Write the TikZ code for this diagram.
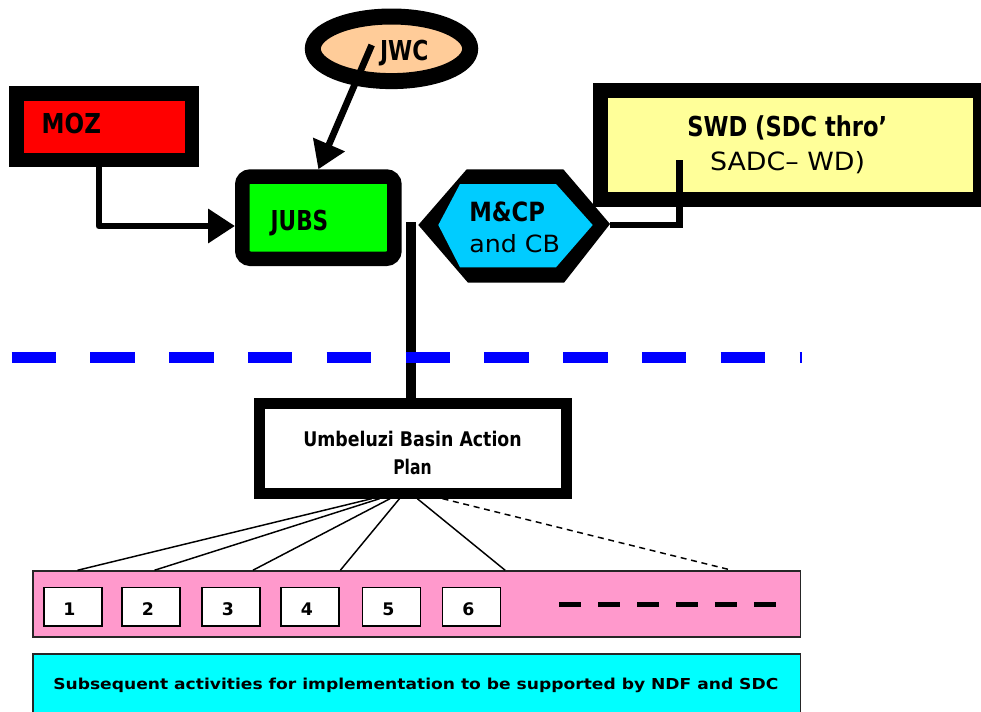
\documentclass[tikz,border=0pt]{standalone}
\usepackage{fontspec}
\setmainfont{DejaVu Sans}
\usepackage{graphicx}
\usetikzlibrary{arrows.meta,shapes.geometric}
\newsavebox\fitbox
\newsavebox\capbox
\newcommand\fitt[3]{%
  \sbox\fitbox{#3}\sbox\capbox{H}%
  \edef\fitw{\the\wd\fitbox}\edef\fith{\the\ht\capbox}%
  \pgfmathsetmacro\fitsx{#1*0.75/\fitw}%
  \pgfmathsetmacro\fitsy{#2*0.75/\fith}%
  \scalebox{\fitsx}[\fitsy]{\usebox\fitbox}}
\definecolor{mozred}{HTML}{FF0000}
\definecolor{jubsgreen}{HTML}{00FF00}
\definecolor{jwcpeach}{HTML}{FFCC99}
\definecolor{mcpblue}{HTML}{00CCFF}
\definecolor{swdyellow}{HTML}{FFFF99}
\definecolor{actpink}{HTML}{FF99CC}
\definecolor{subcyan}{HTML}{00FFFF}
\definecolor{divblue}{HTML}{0000FF}
\tikzset{
  lbl/.style={inner sep=0pt, outer sep=0pt},
  heavybox/.style={draw=black, rectangle, inner sep=0pt},
  thinbox/.style={draw=black!85, rectangle, inner sep=0pt, line width=1.125pt},
  numbox/.style={draw=black, fill=white, rectangle, inner sep=0pt, line width=1.125pt,
    minimum width=43.5pt, minimum height=29pt},
  numtxt/.style={lbl, anchor=base, font=\fontsize{13pt}{14pt}\selectfont\bfseries},
  bigarrow/.style={line width=5pt, -{Triangle[length=20.25pt,width=24.75pt]}},
  fanline/.style={line width=1.1pt},
}
\begin{document}
\begin{tikzpicture}[x=0.75pt,y=-0.75pt]
\useasboundingbox (0,0) rectangle (981,711);

% JWC ellipse
\node[ellipse, draw=black, fill=jwcpeach, line width=12pt, inner sep=0pt,
  minimum width=118.05pt, minimum height=48.45pt] (jwc) at (391.5,48.8) {};
% MOZ
\node[heavybox, line width=10.875pt, fill=mozred, minimum width=131.85pt,
  minimum height=50.1pt] (moz) at (104.15,126.65) {};
% JUBS
\node[heavybox, line width=10.875pt, fill=jubsgreen, rounded corners=6pt,
  minimum width=114.15pt, minimum height=61.65pt] (jubs) at (318.35,217.65) {};
% SWD
\node[heavybox, line width=11.25pt, fill=swdyellow, minimum width=285.3pt,
  minimum height=81.75pt] (swd) at (790.3,145) {};
% M&CP hexagon
\fill[black] (418.3,225) -- (466.7,169.3) -- (563.3,169.3) -- (610,224)
  -- (564,282.7) -- (468,282.7) -- cycle;
\fill[mcpblue] (438.3,225) -- (460,184) -- (556,184) -- (592.7,225)
  -- (556,267.3) -- (460,267.3) -- cycle;
\coordinate (mcpE) at (610,225);

% connectors top
\coordinate (jwcS) at (371.7,45);
\draw[bigarrow] (jwcS) -- (jubs.north);
\draw[bigarrow, line join=round] ([xshift=-3.86pt]moz.south) |- ([yshift=-6.26pt]jubs.west);
\coordinate (swdS) at (679.6,160);
\draw[line width=4.875pt] (swdS) |- (mcpE);

% Action plan box
\node[heavybox, line width=8.1pt, fill=white, minimum width=230.1pt,
  minimum height=67.4pt] (plan) at (413.2,448.35) {};
\coordinate (jubsS) at (411,222);
\draw[line width=7.875pt] (jubsS) -- (jubsS |- plan.north);

% blue divider
\draw[divblue, line width=8.25pt, dash pattern=on 33.375pt off 25.725pt]
  (11.5,357.7) -- (802,357.7);

% pink and cyan boxes
\node[thinbox, fill=actpink, minimum width=575.6pt, minimum height=49.5pt] (pink) at (416.75,604) {};
\node[thinbox, fill=subcyan, minimum width=575.6pt, minimum height=57pt] (sub) at (416.75,692) {};

% fan lines
\draw[fanline] ([xshift=-31.1pt]plan.south) -- ([xshift=-254.4pt]pink.north);
\draw[fanline] ([xshift=-25.2pt]plan.south) -- ([xshift=-196.7pt]pink.north);
\draw[fanline] ([xshift=-17.4pt]plan.south) -- ([xshift=-122.9pt]pink.north);
\draw[fanline] ([xshift=-10.3pt]plan.south) -- ([xshift=-57.3pt]pink.north);
\draw[fanline] ([xshift=3.1pt]plan.south) -- ([xshift=66.3pt]pink.north);
\draw[fanline, dash pattern=on 4.5pt off 3.5pt] ([xshift=22pt]plan.south) -- ([xshift=236.4pt]pink.north);

% number boxes
\node[numbox] (b1) at (72.8,606.7) {};
\node[numbox] (b2) at (151.2,606.7) {};
\node[numbox] (b3) at (231.2,606.7) {};
\node[numbox] (b4) at (310.2,606.7) {};
\node[numbox] (b5) at (391.7,606.7) {};
\node[numbox] (b6) at (471.5,606.7) {};
\node[numtxt] (n1) at (69.3,615.7) {1};
\node[numtxt] (n2) at (147.8,615.7) {2};
\node[numtxt] (n3) at (228,615.7) {3};
\node[numtxt] (n4) at (307,615.7) {4};
\node[numtxt] (n5) at (388.4,615.7) {5};
\node[numtxt] (n6) at (468.3,615.7) {6};
\draw[line width=3.75pt, dash pattern=on 16.5pt off 12.675pt] (559.3,604.2) -- (776.2,604.2);

% texts
\node[lbl, anchor=base west] (tmoz) at (41.7,133.3) {\bfseries\fitt{59.3}{20}{MOZ}};
\node[lbl, anchor=base west] (tjubs) at (270.7,230) {\bfseries\fitt{57.6}{20}{JUBS}};
\node[lbl, anchor=base west] (tjwc) at (380,60) {\bfseries\fitt{48.3}{20}{JWC}};
\node[lbl, anchor=base west] (tmcp) at (469.3,221.7) {\bfseries\fitt{75.7}{19.3}{M\&CP}};
\node[lbl, anchor=base west] (tcb) at (469.3,252.7) {\fitt{90.7}{17.3}{and CB}};
\node[lbl, anchor=base] (tswda) at (787.3,136.7) {\bfseries\fitt{200}{20}{SWD (SDC thro’}};
\node[lbl, anchor=base] (tswdb) at (787.5,170) {\fitt{155}{18.3}{SADC– WD)}};
\node[lbl, anchor=base] (tplana) at (412.5,446.7) {\bfseries\fitt{218.4}{14.7}{Umbeluzi Basin Action}};
\node[lbl, anchor=base] (tplanb) at (412.5,474) {\bfseries\fitt{38.4}{14.7}{Plan}};
\node[lbl, anchor=base] (tsub) at (415.8,689.3) {\bfseries\fitt{725}{11}{Subsequent activities for implementation to be supported by NDF and SDC}};
\end{tikzpicture}
\end{document}
